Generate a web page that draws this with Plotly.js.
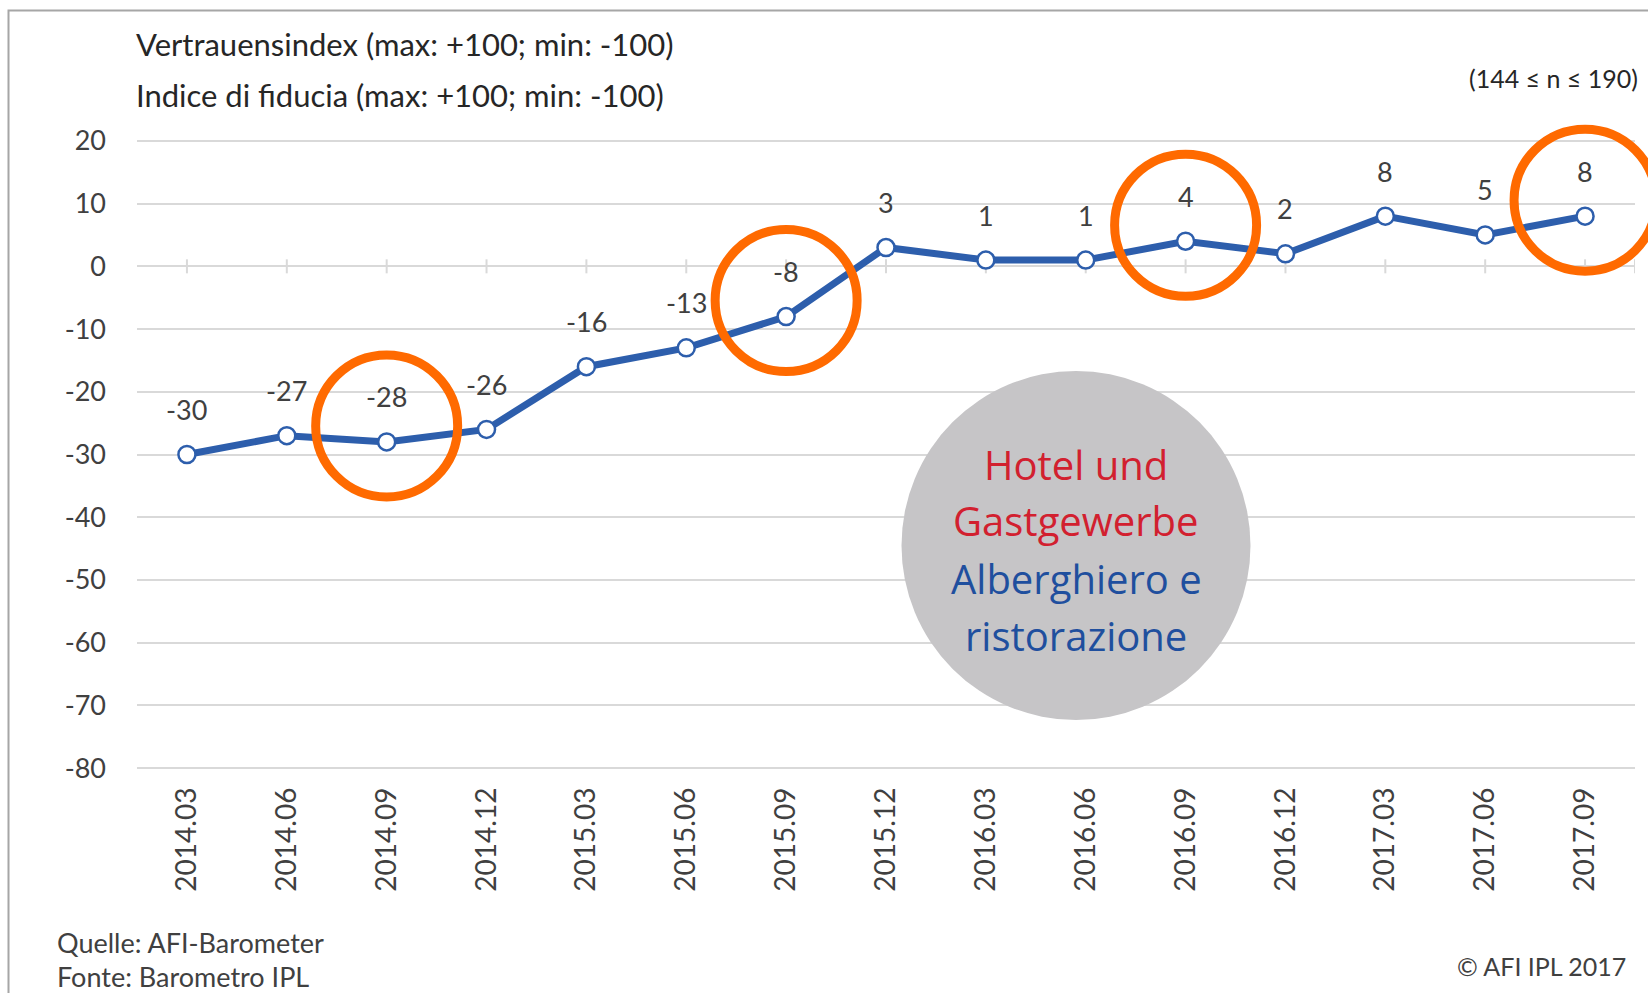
<!DOCTYPE html>
<html>
<head>
<meta charset="utf-8">
<script src="https://cdn.plot.ly/plotly-3.0.1.min.js"></script>
<style>html,body{margin:0;padding:0;background:#fff;}#chart{width:1648px;height:993px;}</style>
</head>
<body>
<div id="chart"></div>
<script>
// ---- data ----
const categories = ['2014.03','2014.06','2014.09','2014.12','2015.03','2015.06','2015.09','2015.12','2016.03','2016.06','2016.09','2016.12','2017.03','2017.06','2017.09'];
const values = [-30, -27, -28, -26, -16, -13, -8, 3, 1, 1, 4, 2, 8, 5, 8];
const highlighted = ['2014.09', '2015.09', '2016.09', '2017.09'];
const yTickVals = [20, 10, 0, -10, -20, -30, -40, -50, -60, -70, -80];
const yTickText = ['20', '10', '0', '-10', '-20', '-30', '-40', '-50', '-60', '-70', '-80'];
const titleLines = ['Vertrauensindex (max: +100; min: -100)', 'Indice di fiducia (max: +100; min: -100)'];
const sampleNote = '(144 \u2264 n \u2264 190)';
const sourceLines = ['Quelle: AFI-Barometer', 'Fonte: Barometro IPL'];
const copyright = '\u00A9 AFI IPL 2017';
const badgeLinesDe = ['Hotel und', 'Gastgewerbe'];
const badgeLinesIt = ['Alberghiero e', 'ristorazione'];

// ---- geometry helpers (layout only) ----
const W = 1648, H = 993;
const M = {l: 137, r: 13, t: 139, b: 223};
const plotW = W - M.l - M.r, plotH = H - M.t - M.b;
const px = x => (x - M.l) / plotW;
const py = y => (H - M.b - y) / plotH;

const FONT = 'Lato, "Source Sans Pro", "Noto Sans", sans-serif';
const TXT = '#404040';
const BLUE = '#2d5eac';
const ORANGE = '#ff6a00';
const pxPerUnit = plotH / 100.6;
const circleLift = 16 / pxPerUnit;

const hlY = highlighted.map(c => values[categories.indexOf(c)] + circleLift);

const traces = [
  {
    type: 'scatter', mode: 'lines+markers', x: categories, y: values,
    line: {color: BLUE, width: 7},
    marker: {size: 17, color: '#ffffff', line: {color: BLUE, width: 2.5}},
    hoverinfo: 'skip', showlegend: false
  },
  {
    type: 'scatter', mode: 'markers', x: highlighted, y: hlY,
    marker: {symbol: 'circle-open', size: 142, color: ORANGE, line: {color: ORANGE, width: 9}},
    cliponaxis: false, hoverinfo: 'skip', showlegend: false
  }
];

const annotations = [];
categories.forEach((c, i) => {
  annotations.push({
    x: i, y: values[i], xref: 'x', yref: 'y', text: String(values[i]),
    xanchor: 'center', yanchor: 'middle',
    showarrow: false, yshift: 45, font: {family: FONT, size: 27, color: TXT}
  });
});
titleLines.forEach((t, i) => {
  annotations.push({
    xref: 'paper', yref: 'paper', x: px(134), y: py(i === 0 ? 44 : 95),
    xanchor: 'left', yanchor: 'middle', text: t, showarrow: false,
    font: {family: FONT, size: 31, color: '#262626'}
  });
});
annotations.push({
  xref: 'paper', yref: 'paper', x: px(1640), y: py(78), xanchor: 'right', yanchor: 'middle',
  text: sampleNote, showarrow: false, font: {family: FONT, size: 25, color: '#262626'}
});
sourceLines.forEach((t, i) => {
  annotations.push({
    xref: 'paper', yref: 'paper', x: px(55), y: py(i === 0 ? 942 : 976),
    xanchor: 'left', yanchor: 'middle', text: t, showarrow: false,
    font: {family: FONT, size: 27, color: TXT}
  });
});
annotations.push({
  xref: 'paper', yref: 'paper', x: px(1628), y: py(966), xanchor: 'right', yanchor: 'middle',
  text: copyright, showarrow: false, font: {family: '"Liberation Sans Narrow", ' + FONT, size: 25, color: TXT}
});
const badgeCx = 1076, badgeCy = 545.5, badgeR = 174.5;
const badgeRows = [464, 520, 578, 635];
badgeLinesDe.concat(badgeLinesIt).forEach((t, i) => {
  annotations.push({
    xref: 'paper', yref: 'paper', x: px(badgeCx), y: py(badgeRows[i]),
    xanchor: 'center', yanchor: 'middle', text: t, showarrow: false,
    font: {family: '"Open Sans", "Noto Sans", sans-serif', size: 40, color: i < 2 ? '#d2202f' : '#1f4f9e'}
  });
});

const shapes = [];
// outer frame
shapes.push({type: 'rect', xref: 'paper', yref: 'paper', x0: px(8.5), x1: px(1700), y0: py(1050), y1: py(10.5),
  line: {color: '#a6a6a6', width: 2}, fillcolor: 'rgba(0,0,0,0)', layer: 'below'});
// tick marks on zero line
const tickPos = categories.map((c, i) => i).concat([categories.length - 0.5]);
tickPos.forEach(p => {
  shapes.push({type: 'line', xref: 'x', yref: 'y', x0: p, x1: p, ysizemode: 'pixel', yanchor: 0, y0: -7, y1: 7,
    line: {color: '#d9d9d9', width: 2}, layer: 'below'});
});
// grey badge
shapes.push({type: 'circle', xref: 'paper', yref: 'paper', xsizemode: 'pixel', ysizemode: 'pixel',
  xanchor: px(badgeCx), yanchor: py(badgeCy), x0: -badgeR, x1: badgeR, y0: -badgeR, y1: badgeR,
  fillcolor: '#c6c5c7', line: {width: 0}, layer: 'above'});

const layout = {
  width: W, height: H, margin: M,
  paper_bgcolor: '#ffffff', plot_bgcolor: '#ffffff',
  showlegend: false, hovermode: false,
  xaxis: {
    type: 'category', categoryarray: categories, range: [-0.5, categories.length - 0.5],
    showgrid: false, zeroline: false, showline: false, ticks: '',
    tickangle: -90, ticklabelstandoff: 11,
    tickfont: {family: FONT, size: 28, color: TXT}, fixedrange: true
  },
  yaxis: {
    range: [-80.3, 20.3], tickmode: 'array', tickvals: yTickVals, ticktext: yTickText,
    showgrid: true, gridcolor: '#d9d9d9', gridwidth: 2, zeroline: false, showline: false, ticks: '',
    ticklabelstandoff: 30,
    tickfont: {family: FONT, size: 27, color: TXT}, fixedrange: true
  },
  annotations: annotations,
  shapes: shapes
};

Plotly.newPlot('chart', traces, layout, {staticPlot: true, displayModeBar: false});
</script>
</body>
</html>
